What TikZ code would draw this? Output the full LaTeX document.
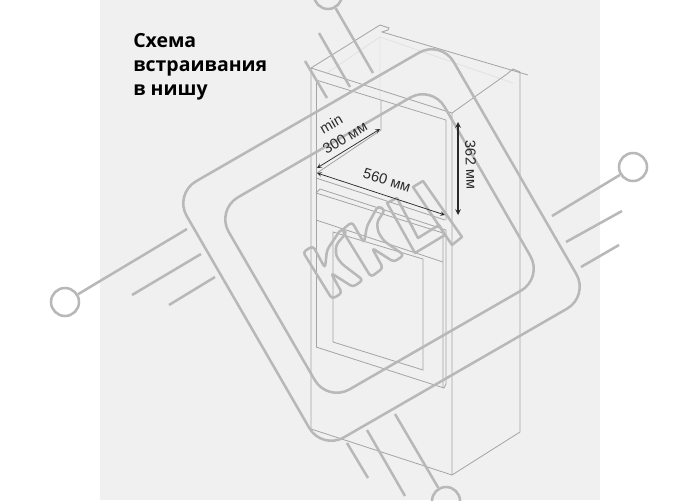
\documentclass[tikz,border=0pt]{standalone}
\usepackage{fontspec}
\setmainfont{Liberation Sans}
\newfontfamily\titlefont{Open Sans}
\definecolor{paper}{HTML}{F0F0F0}
\definecolor{wmark}{HTML}{B8B8B8}
\definecolor{cab}{HTML}{A4A4A4}
\definecolor{faint}{HTML}{E2E2E2}
\definecolor{dim}{HTML}{2A2A2A}
\tikzset{
  wm/.style={draw=wmark,line width=1.9pt,line join=round},
  pin/.style={circle,draw=wmark,line width=1.9pt,minimum size=21pt,inner sep=0pt},
  cabline/.style={draw=cab,line width=0.6pt},
  dimline/.style={draw=dim,line width=0.55pt,stealth-stealth},
  dimtext/.style={text=dim,font=\fontsize{11}{13}\selectfont,inner sep=0pt},
}
\begin{document}
\begin{tikzpicture}[x=0.75pt,y=-0.75pt]
\clip (0,0) rectangle (700,500);
\fill[white] (0,0) rectangle (700,500);
\fill[paper] (100,0) rectangle (600,500);

% faint back edges
\draw[faint,line width=0.6pt] (380,37) -- (380,100) (380,37) -- (513,83) (380,37) -- (327,73);

% cabinet
\draw[cabline] (311,68) -- (380,25) -- (389,28) -- (388,30) -- (382,32) -- (528,75);
\draw[cabline] (311,68) -- (311,429) -- (452,475) -- (520,432) -- (520,72) -- (513,69) -- (507,74) -- (452,113);
\draw[cabline] (311,68) -- (452,113) -- (452,475);
% niche
\draw[cabline] (316,80) -- (446,120) -- (446,220);
\draw[cabline] (316,80) -- (316,347);
\draw[cabline] (381,100) -- (381,130) -- (317,173);
\draw[cabline] (316,178) -- (445,220);
% oven
\draw[cabline] (316,193) -- (320,189) -- (446,230) -- (446,384) -- (444,388) -- (316,347);
\draw[cabline] (316,193) -- (443,233) -- (443,388);
\draw[cabline] (316,220) -- (443,262);
\draw[cabline] (333,232) -- (423,259) -- (423,370) -- (333,342) -- cycle;

% watermark frame
\draw[wm,rounded corners=19pt] (441,40) -- (589,296) -- (322,450) -- (174,194) -- cycle;
\draw[wm,rounded corners=19pt] (432,85) -- (543,278) -- (327.5,402) -- (216,210) -- cycle;

% watermark letters
\draw[wm,rounded corners=2.5pt] (303,252) -- (313,246) -- (325,268) -- (327,250) -- (341,229) -- (347,232) -- (336,245) -- (336,256) -- (342,264) -- (363,280) -- (353,287) -- (331,273) -- (342,293) -- (332,299) -- cycle;
\draw[wm,rounded corners=2.5pt] (342,230) -- (352,222) -- (364,243) -- (367,226) -- (378,206) -- (385,210) -- (377,222) -- (378,232) -- (384,241) -- (404,255) -- (394,262) -- (372,248) -- (383,268) -- (371,277) -- cycle;
\draw[wm] (387,203) -- (397,198) -- (418,238) -- (439,225) -- (445,235) -- (415,253) -- cycle;
\draw[wm] (413,187) -- (423,181) -- (462,237) -- (452,245) -- cycle;

% pins
\node[pin] (ptop) at (328,-5) {};
\node[pin] (pleft) at (65,302) {};
\node[pin] (pright) at (633,167) {};
\node[pin] (pbot) at (446,501) {};
\coordinate (t1) at (373,73);
\coordinate (l1) at (187,229);
\coordinate (r1) at (552,216);
\coordinate (b1) at (395,414);
\draw[wm] (ptop) -- (t1);
\draw[wm] (pleft) -- (l1);
\draw[wm] (pright) -- (r1);
\draw[wm] (pbot) -- (b1);
\draw[wm] (319,33) -- (350,87) (305,61) -- (327,98);
\draw[wm] (132,295) -- (201,254) (169,305) -- (215,277);
\draw[wm] (622,211) -- (566,242) (619,245) -- (581,267);
\draw[wm] (367,430) -- (405,496) (347,443) -- (368,478);

% dimensions
\coordinate (d1) at (317,168);
\coordinate (d2) at (380,129);
\coordinate (d3) at (317,173);
\coordinate (d4) at (445,215);
\coordinate (d5) at (458,122);
\coordinate (d6) at (458,215);
\draw[dimline] (d1) -- (d2);
\draw[dimline] (d3) -- (d4);
\draw[dimline,line width=0.9pt] (d5) -- (d6);
\node[dimtext,rotate=30] (lmin) at (331,124) {min};
\node[dimtext,rotate=31] (l300) at (345,138) {300 мм};
\node[dimtext,rotate=-17] (l560) at (387,180) {560 мм};
\node[dimtext,rotate=-88] (l362) at (471,165) {362 мм};

% title
\node[anchor=north west,inner sep=0pt,align=left,text=black,font=\titlefont\bfseries\fontsize{14.6}{18}\selectfont] (title) at (133,33) {Схема\\встраивания\\в нишу};
\end{tikzpicture}
\end{document}
